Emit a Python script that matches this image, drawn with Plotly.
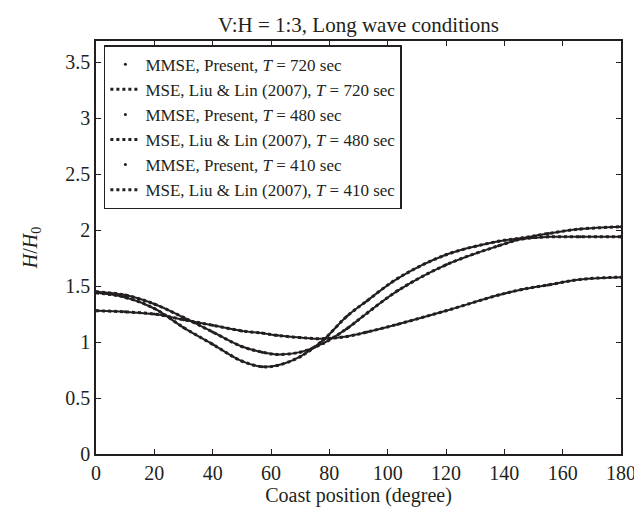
import plotly.graph_objects as go

# Values (coast position in degrees, H/H0)
coast_deg = [0, 10, 20, 30, 40, 50, 57, 62, 70, 78, 86, 93, 103.5, 120, 138, 146, 155, 166, 180]

h_720 = [1.28, 1.27, 1.25, 1.20, 1.15, 1.10, 1.08, 1.06, 1.04, 1.03, 1.05, 1.09, 1.16, 1.28, 1.42, 1.47, 1.51, 1.56, 1.58]
h_480 = [1.45, 1.42, 1.34, 1.22, 1.09, 0.96, 0.91, 0.89, 0.91, 0.99, 1.12, 1.26, 1.46, 1.69, 1.86, 1.92, 1.94, 1.94, 1.94]
h_410 = [1.44, 1.40, 1.30, 1.13, 0.98, 0.83, 0.78, 0.79, 0.87, 1.02, 1.23, 1.37, 1.57, 1.78, 1.90, 1.93, 1.97, 2.01, 2.03]

periods = ["720", "480", "410"]
series = [h_720, h_480, h_410]

INK = "#231f20"
FONT = "Liberation Serif, Times New Roman, serif"

fig = go.Figure()

for period, vals in zip(periods, series):
    # solid body of the curve (no legend entry)
    fig.add_trace(
        go.Scatter(
            x=coast_deg, y=vals, mode="lines", line=dict(color=INK, width=2, shape="spline"),
            showlegend=False, hoverinfo="skip",
        )
    )
    fig.add_trace(
        go.Scatter(
            x=coast_deg, y=vals, mode="markers",
            marker=dict(color=INK, size=3),
            name=f"MMSE, Present, <i>T</i> = {period} sec",
        )
    )
    fig.add_trace(
        go.Scatter(
            x=coast_deg, y=vals, mode="lines",
            line=dict(color=INK, width=3, dash="dot", shape="spline"),
            name=f"MSE, Liu & Lin (2007), <i>T</i> = {period} sec",
        )
    )

axis_style = dict(
    showgrid=False, zeroline=False, showline=True, linecolor=INK, linewidth=1.5,
    mirror="ticks", ticks="inside", ticklen=5, tickcolor=INK,
    tickfont=dict(family=FONT, size=20, color=INK),
)

fig.update_layout(
    width=642, height=516,
    margin=dict(l=88, r=29, t=33, b=70),
    paper_bgcolor="white", plot_bgcolor="white",
    font=dict(family=FONT, color=INK),
    title=dict(
        text="V:H = 1:3, Long wave conditions", x=0.546, xanchor="center", y=0.967, yanchor="middle",
        font=dict(family=FONT, size=21, color=INK),
    ),
    xaxis=dict(
        range=[0, 180], tickvals=list(range(0, 181, 20)),
        title=dict(text="Coast position (degree)", font=dict(family=FONT, size=20, color=INK), standoff=4),
        **axis_style,
    ),
    yaxis=dict(
        range=[0, 3.69], tickvals=[0, 0.5, 1, 1.5, 2, 2.5, 3, 3.5],
        ticktext=["0", "0.5", "1", "1.5", "2", "2.5", "3", "3.5"],
        title=dict(text="<i>H</i>/<i>H</i><sub>0</sub>", font=dict(family=FONT, size=20, color=INK), standoff=22),
        **axis_style,
    ),
    legend=dict(
        x=0.015, y=0.99, xanchor="left", yanchor="top",
        bgcolor="white", bordercolor=INK, borderwidth=1.5,
        font=dict(family=FONT, size=17, color=INK),
        tracegroupgap=0, itemwidth=30,
    ),
    showlegend=True,
)

fig.write_html("out.html")
